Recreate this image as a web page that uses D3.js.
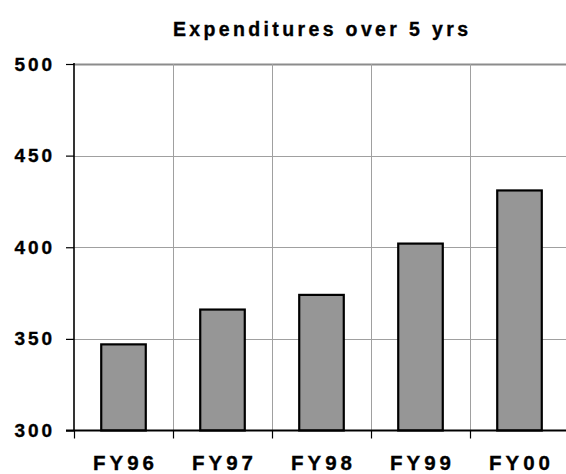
<!DOCTYPE html>
<html><head><meta charset="utf-8">
<script src="https://cdn.jsdelivr.net/npm/d3@7/dist/d3.min.js"></script>
<style>
html,body{margin:0;padding:0;background:#fff;}
svg{display:block;}
text{font-family:"Liberation Sans",Arial,sans-serif;font-weight:bold;fill:#000;stroke:#000;stroke-width:0.35px;}
</style></head>
<body><svg id="c" width="566" height="474"></svg>
<script>
const categories = ["FY96","FY97","FY98","FY99","FY00"];
const values = [347, 366, 374, 402, 431];
const yTicks = [300, 350, 400, 450, 500];
const title = "Expenditures over 5 yrs";

const svg = d3.select("#c");
const pLeft = 74, pRight = 569, pTop = 64, pBottom = 430.5;

const x = d3.scaleBand().domain(categories).range([pLeft, pRight]).paddingInner(0.55).paddingOuter(0.275);
const xb = d3.scaleBand().domain(categories).range([pLeft, pRight]);
const y = d3.scaleLinear().domain([300, 500]).range([pBottom, pTop]);

// horizontal gridlines
svg.append("g").selectAll("line").data(yTicks.slice(1)).join("line")
  .attr("x1", pLeft).attr("x2", 566)
  .attr("y1", d => Math.round(y(d)) + 0.5).attr("y2", d => Math.round(y(d)) + 0.5)
  .attr("stroke", d => d === 500 ? "#8c8c8c" : "#a0a0a0")
  .attr("stroke-width", d => d === 500 ? 2 : 1);

// vertical gridlines
svg.append("g").selectAll("line").data(categories.slice(1)).join("line")
  .attr("x1", d => Math.round(xb(d)) + 0.5).attr("x2", d => Math.round(xb(d)) + 0.5)
  .attr("y1", pTop).attr("y2", pBottom)
  .attr("stroke", "#a0a0a0").attr("stroke-width", 1);

// bars
svg.append("g").selectAll("rect").data(values).join("rect")
  .attr("x", (d, i) => x(categories[i]))
  .attr("width", x.bandwidth())
  .attr("y", d => y(d))
  .attr("height", d => pBottom - y(d))
  .attr("fill", "#969696").attr("stroke", "#000").attr("stroke-width", 2.2);

// left axis
const yAxis = d3.axisLeft(y).tickValues(yTicks).tickSize(8).tickFormat("");
const ya = svg.append("g").attr("transform", `translate(${pLeft},0)`).call(yAxis);
ya.select(".domain").remove();
ya.selectAll(".tick line").attr("stroke", "#000").attr("stroke-width", 1.2);
svg.append("line").attr("x1", pLeft).attr("x2", pLeft).attr("y1", pTop - 1).attr("y2", pBottom)
  .attr("stroke", "#000").attr("stroke-width", 1.6);

// bottom axis
svg.append("line").attr("x1", pLeft - 8).attr("x2", 566).attr("y1", pBottom).attr("y2", pBottom)
  .attr("stroke", "#000").attr("stroke-width", 1.8);
svg.append("g").selectAll("line").data(categories).join("line")
  .attr("x1", d => Math.round(xb(d)) + 0.5).attr("x2", d => Math.round(xb(d)) + 0.5)
  .attr("y1", pBottom).attr("y2", pBottom + 8)
  .attr("stroke", "#000").attr("stroke-width", 1.2);

// y labels
svg.append("g").selectAll("text").data(yTicks).join("text")
  .attr("x", 52).attr("y", d => y(d) + 6.5)
  .attr("text-anchor", "end")
  .attr("font-size", 19)
  .attr("textLength", 37.5).attr("lengthAdjust", "spacing")
  .text(d => d);

// x labels
svg.append("g").selectAll("text").data(categories).join("text")
  .attr("x", d => xb(d) + xb.bandwidth() / 2)
  .attr("y", 469.5)
  .attr("text-anchor", "middle")
  .attr("font-size", 20.5)
  .attr("textLength", 61).attr("lengthAdjust", "spacing")
  .text(d => d);

// title
svg.append("text").attr("x", 173).attr("y", 35.5)
  .attr("font-size", 19.5)
  .attr("textLength", 295).attr("lengthAdjust", "spacing")
  .text(title);
</script></body></html>
